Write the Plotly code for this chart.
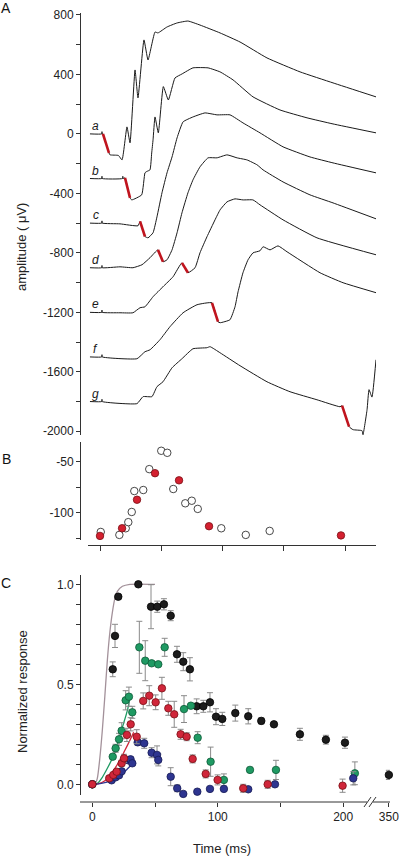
import numpy as np
import plotly.graph_objects as go

FONT = "Liberation Sans, Arial, Helvetica, sans-serif"

# ---------------- Panel A: stacked ERG traces (time in ms, displayed amplitude in µV)
TRACE_LABELS = ["a", "b", "c", "d", "e", "f", "g"]

A_T = [-8.2, 1.4, 1.6, 1.8, 2.4, 7.3, 8.2, 15.0, 18.0, 22.0, 24.5, 28.6, 31.0, 35.9, 39.2, 44.9, 47.3,
       54.7, 62.9, 71.8, 81.6, 98.0, 114.3, 136.3, 163.3, 190.2, 225.3]
A_V = [0, 0, 15, 0, 0, -128, -141, -145, -175, 47, -60, 430, 242, 632, 497, 685, 679,
       719, 746, 759, 732, 679, 618, 511, 417, 343, 249]

B_T = [-8.2, 1.4, 1.6, 1.8, 18.4, 18.6, 18.8, 20.4, 24.5, 25.9, 34.0, 36.7, 38.1, 40.8, 42.2, 43.3, 44.9,
       47.6, 51.7, 55.8, 61.2, 66.9, 75.9, 88.2, 98.0, 108.6, 124.9, 146.9, 169.0, 190.2, 225.3]
B_V = [-300, -300, -285, -300, -300, -285, -300, -296, -430, -444, -410, -262, -253, -242, -128, -40, 114,
       7, 318, 228, 376, 403, 444, 444, 417, 363, 249, 161, 108, 67, 7]

C_T = [-8.2, 1.4, 1.6, 1.8, 16.3, 31.0, 32.7, 36.7, 39.2, 43.3, 46.5, 50.6, 54.7, 58.8, 62.9, 67.8, 75.9,
       85.7, 95.5, 106.1, 116.7, 130.6, 149.4, 171.4, 190.2, 225.3]
C_V = [-600, -600, -585, -600, -605, -618, -589, -690, -699, -665, -558, -396, -262, -155, -27, 81, 114,
       141, 128, 128, 74, 7, -87, -155, -195, -262]

D_T = [-8.2, 1.4, 1.6, 1.8, 16.3, 26.9, 34.3, 40.8, 47.3, 51.4, 54.7, 58.8, 62.9, 66.9, 71.8, 75.9, 81.6,
       88.2, 95.5, 103.7, 111.8, 120.0, 128.2, 133.1, 149.4, 171.4, 190.2, 225.3]
D_V = [-900, -900, -885, -900, -894, -900, -880, -833, -780, -860, -847, -780, -665, -531, -396, -309, -222,
       -161, -161, -141, -161, -175, -208, -242, -323, -410, -464, -571]

E_T = [-8.2, 1.4, 1.6, 1.8, 16.3, 26.9, 32.7, 36.7, 43.3, 51.4, 59.6, 66.9, 71.8, 77.6, 81.6, 87.3, 93.9,
       98.0, 103.7, 110.2, 116.7, 124.9, 130.6, 149.4, 177.1, 225.3]
E_V = [-1200, -1200, -1185, -1200, -1203, -1203, -1169, -1163, -1095, -1028, -961, -867, -934, -900, -800,
       -692, -578, -511, -457, -437, -444, -444, -477, -578, -699, -813]

F_T = [-8.2, 1.4, 1.6, 1.8, 30.2, 36.7, 40.8, 49.0, 57.1, 67.8, 79.2, 91.4, 96.3, 98.0, 106.1, 110.2, 112.7,
       116.7, 120.8, 124.9, 130.6, 133.1, 138.8, 145.3, 152.7, 179.6, 198.4, 225.3]
F_V = [-1500, -1500, -1485, -1500, -1512, -1465, -1452, -1384, -1297, -1203, -1149, -1136, -1263, -1270, -1250,
       -1163, -1062, -934, -847, -800, -786, -759, -780, -753, -793, -934, -1001, -1068]

G_T = [-8.2, 1.4, 1.6, 1.8, 30.2, 35.1, 42.4, 46.5, 51.4, 58.8, 66.9, 75.9, 87.3, 89.8, 98.0, 114.3, 136.3,
       155.1, 177.1, 195.9, 197.6, 203.3, 206.5, 213.9, 214.7, 218.0, 219.6, 222.0, 225.3]
G_V = [-1800, -1800, -1785, -1800, -1814, -1767, -1767, -1700, -1667, -1573, -1512, -1445, -1438, -1431, -1472,
       -1559, -1667, -1734, -1788, -1835, -1828, -1969, -1989, -1996, -2023, -1855, -1720, -1770, -1519]

TRACES_T = [A_T, B_T, C_T, D_T, E_T, F_T, G_T]
TRACES_V = [A_V, B_V, C_V, D_V, E_V, F_V, G_V]
RED_WINDOWS = [(2.4, 7.3), (20.4, 24.5), (32.7, 36.7), (47.3, 51.4), (66.9, 71.8), (91.4, 96.3), (197.6, 203.3)]

A_YTICKS = [-2000, -1600, -1200, -800, -400, 0, 400, 800]
A_YTICKTEXT = ["-2000", "-1600", "-1200", "-800", "-400", "0", "400", "800"]

# ---------------- Panel B
B_OPEN_T = [0.6, 15.8, 21.0, 23.1, 25.9, 28.0, 35.3, 40.2, 50.0, 54.9, 59.8, 69.6, 74.9, 79.8, 99.0, 119.0, 138.5]
B_OPEN_V = [-118.6, -121.5, -115, -109, -99, -78.5, -77.5, -57, -39, -41, -76.5, -90.5, -88, -96, -115, -121.5, -117.6]
B_RED_T = [0, 18, 30.2, 44.9, 64.5, 89, 196.7]
B_RED_V = [-122.5, -115, -87, -61, -68, -113, -122]
B_YTICKS = [-100, -50]
B_YTICKTEXT = ["-100", "-50"]

# ---------------- Panel C
BLACK_T = [0, 16.3, 18.1, 20.7, 36.7, 46.8, 51.8, 57.1, 62.5, 67.5, 72.5, 77.8, 83.2, 88.5, 93.8, 98.6, 103.6,
           114.0, 124.3, 134.7, 144.8, 165.5, 186.2, 201.4, 350]
BLACK_Y = [0, 0.575, 0.742, 0.938, 1.0, 0.888, 0.888, 0.90, 0.843, 0.65, 0.613, 0.575, 0.39, 0.39, 0.41, 0.338,
           0.327, 0.356, 0.34, 0.317, 0.30, 0.25, 0.223, 0.208, 0.047]
BLACK_E = [0, 0.037, 0.058, 0.012, 0, 0.11, 0.028, 0.028, 0.025, 0.04, 0.045, 0.058, 0.037, 0.03, 0.048, 0.04,
           0.033, 0.04, 0.038, 0.015, 0.01, 0.03, 0.022, 0.028, 0.023]

GREEN_T = [0, 16.3, 18.6, 21.3, 23.4, 26.6, 29.2, 31.9, 37.5, 42.2, 47.3, 52.6, 57.7, 73.1, 78.6, 84.0, 94.3,
           104.9, 125.7, 146.4, 209.3]
GREEN_Y = [0, 0.138, 0.18, 0.225, 0.268, 0.42, 0.438, 0.36, 0.685, 0.618, 0.605, 0.60, 0.685, 0.376, 0.393,
           0.233, 0.113, 0.022, 0.072, 0.072, 0.055]
GREEN_E = [0, 0.01, 0.02, 0.03, 0.04, 0.048, 0.048, 0.03, 0.13, 0.1, 0, 0, 0.045, 0.067, 0, 0.03, 0.073,
           0.03, 0.013, 0.048, 0.057]

RED_T = [0, 13.5, 16.7, 19.4, 23.4, 25.3, 27.6, 30.6, 35.4, 40.6, 45.4, 50.5, 55.5, 60.6, 65.3, 70.4, 75.2,
         80.0, 90.4, 99.9, 120.3, 139.8, 199.5]
RED_Y = [0, 0.03, 0.047, 0.063, 0.105, 0.13, 0.247, 0.30, 0.238, 0.417, 0.443, 0.41, 0.48, 0.38, 0.35, 0.25,
         0.238, 0.127, 0.052, 0.022, -0.02, 0.0, -0.007]
RED_E = [0, 0, 0, 0.01, 0.015, 0.02, 0.033, 0.033, 0.035, 0.04, 0.05, 0.037, 0.055, 0.035, 0.065, 0.025,
         0.02, 0.02, 0.02, 0.025, 0.02, 0.02, 0.033]

BLUE_T = [0, 15.4, 18.6, 21.3, 23.4, 28.7, 30.5, 31.9, 36.2, 41.4, 47.3, 51.6, 52.6, 62.5, 67.7, 72.5, 83.7,
          93.8, 104.9, 124.3, 145.6, 208.0]
BLUE_Y = [0, 0.02, 0.035, 0.045, 0.065, 0.12, 0.125, 0.105, 0.21, 0.205, 0.158, 0.147, 0.122, 0.038, -0.02,
          -0.048, -0.037, -0.023, -0.023, -0.025, 0.0, 0.03]
BLUE_E = [0, 0, 0, 0, 0.01, 0.01, 0.01, 0.01, 0.015, 0.025, 0.025, 0.045, 0.03, 0.045, 0.017, 0, 0, 0, 0, 0,
          0, 0.033]

FIT_GRAY_T = [0, 2, 4, 6, 8, 10, 12, 14, 16, 18, 20, 24, 30, 50]
FIT_GRAY_Y = [0, 0.0, 0.03, 0.13, 0.27, 0.44, 0.62, 0.76, 0.86, 0.93, 0.965, 0.99, 1.0, 1.0]
FIT_GREEN_T = [0, 4, 8, 12, 16, 20, 24, 28, 30]
FIT_GREEN_Y = [0, 0.005, 0.035, 0.08, 0.13, 0.2, 0.285, 0.37, 0.43]
FIT_RED_T = [0, 5, 10, 14, 18, 22, 26, 30, 33]
FIT_RED_Y = [0, 0.003, 0.018, 0.045, 0.08, 0.12, 0.17, 0.22, 0.26]
FIT_BLUE_T = [0, 5, 10, 14, 18, 22, 26, 30, 33]
FIT_BLUE_Y = [0, 0.002, 0.008, 0.015, 0.03, 0.047, 0.065, 0.09, 0.11]

C_XTICKS = [0, 50, 100, 150, 200, 350]
C_XTICKTEXT = ["0", "", "100", "", "200", "350"]

# broken time axis in panel C: the 350 ms column is drawn just right of the break
BREAK_AT = 250
BREAK_DISPLAY_350 = 236.4


def c_x(ts):
    ts = np.asarray(ts, dtype=float)
    return np.where(ts > BREAK_AT, BREAK_DISPLAY_350 + (ts - 350), ts)


W, H = 400, 856


def px(x):
    return x / W


def py(y):
    return 1 - y / H


fig = go.Figure()

INK = "#1a1a1a"
AX = "#333333"
RED_SEG = "#c0141e"

# Panel A traces
for t, v, (r0, r1) in zip(TRACES_T, TRACES_V, RED_WINDOWS):
    t = np.asarray(t, float)
    v = np.asarray(v, float)
    fig.add_trace(go.Scatter(x=t, y=v, mode="lines", line=dict(color=INK, width=1, shape="spline", smoothing=0.4),
                             xaxis="x", yaxis="y", hoverinfo="skip"))
    m = (t >= r0 - 1e-6) & (t <= r1 + 1e-6)
    fig.add_trace(go.Scatter(x=t[m], y=v[m], mode="lines", line=dict(color=RED_SEG, width=2.6),
                             xaxis="x", yaxis="y", hoverinfo="skip"))

for lab, t, v in zip(TRACE_LABELS, TRACES_T, TRACES_V):
    fig.add_annotation(x=-3.6, y=v[0], xref="x", yref="y", text=f"<i>{lab}</i>", showarrow=False,
                       xanchor="center", yanchor="middle",
                       yshift=8, font=dict(family=FONT, size=12, color=INK))

# Panel B
fig.add_trace(go.Scatter(x=B_OPEN_T, y=B_OPEN_V, mode="markers", xaxis="x2", yaxis="y2",
                         marker=dict(size=7.5, color="white", line=dict(color="#333", width=0.9)),
                         cliponaxis=False))
fig.add_trace(go.Scatter(x=B_RED_T, y=B_RED_V, mode="markers", xaxis="x2", yaxis="y2",
                         marker=dict(size=7.5, color="#d42030", line=dict(color="#7a1015", width=0.8)),
                         cliponaxis=False))

# Panel C fits
for ft, fy, col in [(FIT_GRAY_T, FIT_GRAY_Y, "#a3919a"), (FIT_GREEN_T, FIT_GREEN_Y, "#1f9a63"),
                    (FIT_RED_T, FIT_RED_Y, "#d0263a"), (FIT_BLUE_T, FIT_BLUE_Y, "#2e3590")]:
    fig.add_trace(go.Scatter(x=c_x(ft), y=fy, mode="lines", line=dict(color=col, width=1.3, shape="spline",
                                                                         smoothing=0.6),
                             xaxis="x3", yaxis="y3", hoverinfo="skip", cliponaxis=False))

# Panel C points
for st, sy, se, col, edge in [(BLACK_T, BLACK_Y, BLACK_E, "#1c1c1c", "#000000"),
                              (GREEN_T, GREEN_Y, GREEN_E, "#1f9a63", "#0f5a38"),
                              (BLUE_T, BLUE_Y, BLUE_E, "#2e3590", "#161a55"),
                              (RED_T, RED_Y, RED_E, "#d0263a", "#7a1015")]:
    fig.add_trace(go.Scatter(x=c_x(st), y=sy, mode="markers", xaxis="x3", yaxis="y3",
                             error_y=dict(type="data", array=se, color="#8a8a8a", thickness=1, width=3),
                             marker=dict(size=7.5, color=col, line=dict(color=edge, width=0.8)),
                             cliponaxis=False))

tickfont = dict(family=FONT, size=12, color="#222")
base_axis = dict(showline=True, linecolor=AX, linewidth=1, ticks="outside", ticklen=4, tickcolor=AX,
                 tickwidth=1, showgrid=False, zeroline=False, tickfont=tickfont, fixedrange=True)

xA_dom = [px(88), px(376)]
x_range_AB = [-9.8, 225.3]

fig.update_layout(
    width=W, height=H, template="none",
    margin=dict(l=0, r=0, t=0, b=0),
    paper_bgcolor="white", plot_bgcolor="rgba(0,0,0,0)",
    showlegend=False, hovermode=False,
    font=dict(family=FONT, color="#222"),
    xaxis=dict(domain=xA_dom, range=x_range_AB, visible=False, anchor="y", fixedrange=True),
    yaxis=dict(base_axis, domain=[py(435), py(13)], range=[-2025, 813], anchor="free", position=px(80),
               tickvals=A_YTICKS, ticktext=A_YTICKTEXT,
               minor=dict(dtick=200, tick0=0, ticks="outside", ticklen=4, tickcolor=AX, showgrid=False)),
    xaxis2=dict(base_axis, domain=xA_dom, range=x_range_AB, anchor="free", position=py(545),
                tickvals=[0, 50, 100, 150, 200], showticklabels=False, ticklen=5),
    yaxis2=dict(base_axis, domain=[py(540), py(442)], range=[-126.5, -30.4], anchor="free", position=px(80),
                tickvals=B_YTICKS, ticktext=B_YTICKTEXT,
                minor=dict(dtick=25, tick0=0, ticks="outside", ticklen=4, tickcolor=AX, showgrid=False)),
    xaxis3=dict(base_axis, domain=[px(80), px(390)], range=[-9.8, 237.3], anchor="free", position=py(802),
                showline=False, tickvals=list(c_x(C_XTICKS)), ticktext=C_XTICKTEXT),
    yaxis3=dict(base_axis, domain=[py(795), py(575)], range=[-0.0535, 1.0465], anchor="free", position=px(80),
                tickvals=[0, 0.5, 1.0], ticktext=["0.0", "0.5", "1.0"],
                minor=dict(dtick=0.1, tick0=0, ticks="outside", ticklen=4, tickcolor=AX, showgrid=False)),
)

# broken x-axis line of panel C
yb = py(802)
fig.add_shape(type="line", xref="paper", yref="paper", x0=px(80), x1=px(367), y0=yb, y1=yb,
              line=dict(color=AX, width=1))
fig.add_shape(type="line", xref="paper", yref="paper", x0=px(373), x1=px(390), y0=yb, y1=yb,
              line=dict(color=AX, width=1))
for dx in (0, 5):
    fig.add_shape(type="line", xref="paper", yref="paper", x0=px(364 + dx), x1=px(371 + dx),
                  y0=py(807), y1=py(797), line=dict(color=AX, width=1))

# panel letters and axis titles
for letter, y in [("A", 8), ("B", 459), ("C", 583)]:
    fig.add_annotation(x=px(6), y=py(y), xref="paper", yref="paper", text=letter, showarrow=False,
                       xanchor="center", yanchor="middle",
                       font=dict(family=FONT, size=14, color="#111"))
fig.add_annotation(x=px(22), y=py(247), xref="paper", yref="paper", text="amplitude ( \u03bcV)",
                   xanchor="center", yanchor="middle",
                   textangle=-90, showarrow=False, font=dict(family=FONT, size=13, color="#222"))
fig.add_annotation(x=px(22), y=py(692), xref="paper", yref="paper", text="Normalized response",
                   xanchor="center", yanchor="middle",
                   textangle=-90, showarrow=False, font=dict(family=FONT, size=13, color="#222"))
fig.add_annotation(x=px(222), y=py(848), xref="paper", yref="paper", text="Time (ms)",
                   xanchor="center", yanchor="middle",
                   showarrow=False, font=dict(family=FONT, size=13, color="#222"))

fig.write_html("out.html", config={"displayModeBar": False, "staticPlot": True},
               post_script="document.body.style.margin='0';document.body.style.padding='0';")
